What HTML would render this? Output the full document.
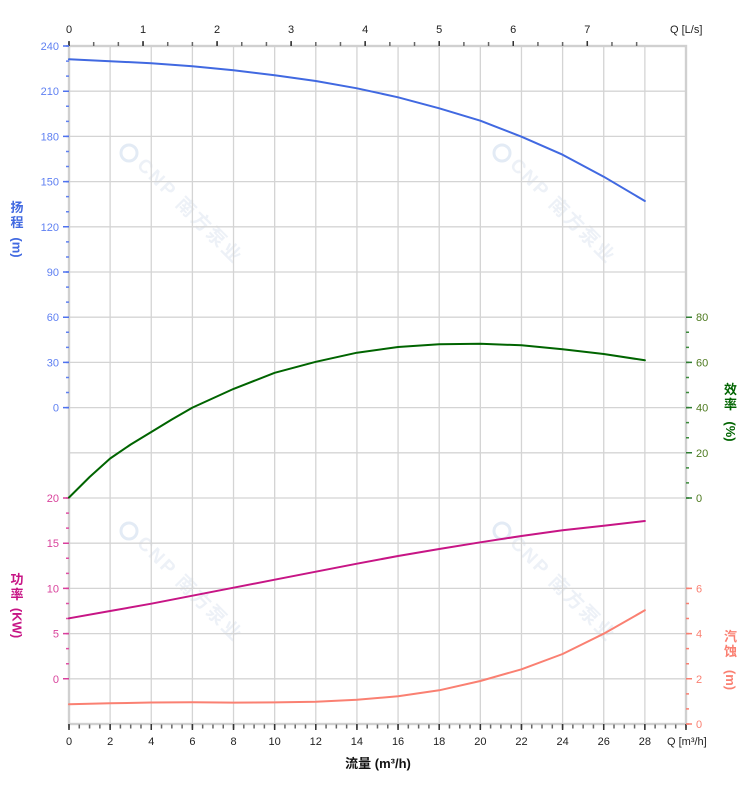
<!DOCTYPE html>
<html><head><meta charset="utf-8"><style>
html,body{margin:0;padding:0;background:#fff;}
svg{display:block;}
text{font-family:"Liberation Sans","Noto Sans CJK SC",sans-serif;}
</style></head><body>
<svg width="752" height="797" viewBox="0 0 752 797" xmlns="http://www.w3.org/2000/svg">
<rect width="752" height="797" fill="#fff"/>

<!-- watermarks -->
<g fill="#edf1f7" font-weight="bold" font-size="19">
  <g><circle cx="129" cy="153" r="8" fill="none" stroke="#e3ebf5" stroke-width="3"/>
  <text transform="translate(136,166) rotate(45)" textLength="138" lengthAdjust="spacing">CNP 南方泵业</text></g>
  <g transform="translate(373,0)"><circle cx="129" cy="153" r="8" fill="none" stroke="#e3ebf5" stroke-width="3"/>
  <text transform="translate(136,166) rotate(45)" textLength="138" lengthAdjust="spacing">CNP 南方泵业</text></g>
  <g transform="translate(0,378)"><circle cx="129" cy="153" r="8" fill="none" stroke="#e3ebf5" stroke-width="3"/>
  <text transform="translate(136,166) rotate(45)" textLength="138" lengthAdjust="spacing">CNP 南方泵业</text></g>
  <g transform="translate(373,378)"><circle cx="129" cy="153" r="8" fill="none" stroke="#e3ebf5" stroke-width="3"/>
  <text transform="translate(136,166) rotate(45)" textLength="138" lengthAdjust="spacing">CNP 南方泵业</text></g>
</g>

<!-- grid -->
<g stroke="#d4d4d4" stroke-width="1.3">
  <line x1="110.13" y1="46" x2="110.13" y2="724"/>
  <line x1="151.27" y1="46" x2="151.27" y2="724"/>
  <line x1="192.4" y1="46" x2="192.4" y2="724"/>
  <line x1="233.53" y1="46" x2="233.53" y2="724"/>
  <line x1="274.67" y1="46" x2="274.67" y2="724"/>
  <line x1="315.8" y1="46" x2="315.8" y2="724"/>
  <line x1="356.93" y1="46" x2="356.93" y2="724"/>
  <line x1="398.07" y1="46" x2="398.07" y2="724"/>
  <line x1="439.2" y1="46" x2="439.2" y2="724"/>
  <line x1="480.33" y1="46" x2="480.33" y2="724"/>
  <line x1="521.47" y1="46" x2="521.47" y2="724"/>
  <line x1="562.6" y1="46" x2="562.6" y2="724"/>
  <line x1="603.73" y1="46" x2="603.73" y2="724"/>
  <line x1="644.87" y1="46" x2="644.87" y2="724"/>
  <line x1="69" y1="91.2" x2="686" y2="91.2"/>
  <line x1="69" y1="136.4" x2="686" y2="136.4"/>
  <line x1="69" y1="181.6" x2="686" y2="181.6"/>
  <line x1="69" y1="226.8" x2="686" y2="226.8"/>
  <line x1="69" y1="272" x2="686" y2="272"/>
  <line x1="69" y1="317.2" x2="686" y2="317.2"/>
  <line x1="69" y1="362.4" x2="686" y2="362.4"/>
  <line x1="69" y1="407.6" x2="686" y2="407.6"/>
  <line x1="69" y1="452.8" x2="686" y2="452.8"/>
  <line x1="69" y1="498" x2="686" y2="498"/>
  <line x1="69" y1="543.2" x2="686" y2="543.2"/>
  <line x1="69" y1="588.4" x2="686" y2="588.4"/>
  <line x1="69" y1="633.6" x2="686" y2="633.6"/>
  <line x1="69" y1="678.8" x2="686" y2="678.8"/>
</g>
<rect x="69" y="46" width="617" height="678" fill="none" stroke="#d0d0d0" stroke-width="2.4"/>

<!-- top ticks -->
<line x1="68.25" y1="44" x2="637.5" y2="44" stroke="#666" stroke-width="4" stroke-dasharray="1.5 23.18"/>
<line x1="68.25" y1="43.5" x2="589" y2="43.5" stroke="#333" stroke-width="5" stroke-dasharray="1.5 72.54"/>
<!-- bottom ticks -->
<line x1="68.25" y1="726.5" x2="687" y2="726.5" stroke="#666" stroke-width="4" stroke-dasharray="1.5 8.783"/>
<line x1="68.25" y1="727" x2="687" y2="727" stroke="#333" stroke-width="6" stroke-dasharray="1.5 39.633"/>

<!-- left head ticks -->
<line x1="67.5" y1="45.25" x2="67.5" y2="408.5" stroke="#6080f0" stroke-width="3" stroke-dasharray="1.5 13.567"/>
<line x1="66" y1="45.25" x2="66" y2="408.5" stroke="#4f72ee" stroke-width="6" stroke-dasharray="1.5 43.7"/>
<!-- left power ticks -->
<line x1="67.5" y1="497.25" x2="67.5" y2="679.7" stroke="#e050a5" stroke-width="3" stroke-dasharray="1.5 13.567"/>
<line x1="66" y1="497.25" x2="66" y2="679.7" stroke="#d9409c" stroke-width="6" stroke-dasharray="1.5 43.7"/>
<!-- right eff ticks -->
<line x1="687.5" y1="316.45" x2="687.5" y2="498.9" stroke="#3c8c3c" stroke-width="3" stroke-dasharray="1.5 13.567"/>
<line x1="689" y1="316.45" x2="689" y2="498.9" stroke="#2e7d32" stroke-width="6" stroke-dasharray="1.5 43.7"/>
<!-- right npsh ticks -->
<line x1="687.5" y1="587.65" x2="687.5" y2="724.9" stroke="#fa8072" stroke-width="3" stroke-dasharray="1.5 13.567"/>
<line x1="689" y1="587.65" x2="689" y2="724.9" stroke="#fa8072" stroke-width="6" stroke-dasharray="1.5 43.7"/>

<!-- top labels -->
<g font-size="11" fill="#222" text-anchor="middle">
  <text x="69" y="33">0</text>
  <text x="143.04" y="33">1</text>
  <text x="217.08" y="33">2</text>
  <text x="291.12" y="33">3</text>
  <text x="365.16" y="33">4</text>
  <text x="439.2" y="33">5</text>
  <text x="513.24" y="33">6</text>
  <text x="587.28" y="33">7</text>
</g>
<text x="670" y="33" font-size="11" fill="#222">Q [L/s]</text>

<!-- bottom labels -->
<g font-size="11" fill="#222" text-anchor="middle">
  <text x="69" y="745">0</text>
  <text x="110.13" y="745">2</text>
  <text x="151.27" y="745">4</text>
  <text x="192.4" y="745">6</text>
  <text x="233.53" y="745">8</text>
  <text x="274.67" y="745">10</text>
  <text x="315.8" y="745">12</text>
  <text x="356.93" y="745">14</text>
  <text x="398.07" y="745">16</text>
  <text x="439.2" y="745">18</text>
  <text x="480.33" y="745">20</text>
  <text x="521.47" y="745">22</text>
  <text x="562.6" y="745">24</text>
  <text x="603.73" y="745">26</text>
  <text x="644.87" y="745">28</text>
</g>
<text x="667" y="745" font-size="11" fill="#222">Q [m³/h]</text>
<text x="378" y="768" font-size="13" font-weight="bold" fill="#111" text-anchor="middle">流量 (m³/h)</text>

<!-- head labels -->
<g font-size="11" fill="#5f80f2" text-anchor="end">
  <text x="59" y="50">240</text>
  <text x="59" y="95.2">210</text>
  <text x="59" y="140.4">180</text>
  <text x="59" y="185.6">150</text>
  <text x="59" y="230.8">120</text>
  <text x="59" y="276">90</text>
  <text x="59" y="321.2">60</text>
  <text x="59" y="366.4">30</text>
  <text x="59" y="411.6">0</text>
</g>
<!-- power labels -->
<g font-size="11" fill="#d9439c" text-anchor="end">
  <text x="59" y="502">20</text>
  <text x="59" y="547.2">15</text>
  <text x="59" y="592.4">10</text>
  <text x="59" y="637.6">5</text>
  <text x="59" y="682.8">0</text>
</g>
<!-- eff labels -->
<g font-size="11" fill="#4d7a1f">
  <text x="696" y="321.2">80</text>
  <text x="696" y="366.4">60</text>
  <text x="696" y="411.6">40</text>
  <text x="696" y="456.8">20</text>
  <text x="696" y="502">0</text>
</g>
<!-- npsh labels -->
<g font-size="11" fill="#fa8072">
  <text x="696" y="592.4">6</text>
  <text x="696" y="637.6">4</text>
  <text x="696" y="682.8">2</text>
  <text x="696" y="728">0</text>
</g>

<!-- axis titles -->
<g font-size="13" font-weight="bold" text-anchor="middle">
  <g fill="#4169e1">
    <text x="17" y="212">扬</text>
    <text x="17" y="227">程</text>
    <text transform="translate(17,247.5) rotate(90)" dominant-baseline="central">(m)</text>
  </g>
  <g fill="#c71585">
    <text x="17" y="584">功</text>
    <text x="17" y="599">率</text>
    <text transform="translate(17,623) rotate(90)" dominant-baseline="central">(KW)</text>
  </g>
  <g fill="#006400">
    <text x="730.5" y="394">效</text>
    <text x="730.5" y="409">率</text>
    <text transform="translate(730.5,431.5) rotate(90)" dominant-baseline="central">(%)</text>
  </g>
  <g fill="#fa8072">
    <text x="730.5" y="641">汽</text>
    <text x="730.5" y="656">蚀</text>
    <text transform="translate(730.5,680) rotate(90)" dominant-baseline="central">(m)</text>
  </g>
</g>

<!-- curves -->
<g fill="none" stroke-width="2" stroke-linejoin="round" stroke-linecap="round">
  <polyline stroke="#4169e1" points="69,59.3 110.13,61.2 151.27,63.3 192.4,66.3 233.53,70.2 274.67,75.3 315.8,81 356.93,88.3 398.07,97.3 439.2,108.3 480.33,120.7 521.47,136.7 562.6,154.7 603.73,176.7 644.87,201"/>
  <polyline stroke="#006400" points="69,497.5 89.6,477 110.13,458.5 130.7,444.5 151.27,432 171.8,419.5 192.4,407.6 233.53,388.9 274.67,372.8 315.8,361.8 356.93,352.7 398.07,347 439.2,344.3 480.33,343.7 521.47,345.3 562.6,349.3 603.73,354 644.87,360.3"/>
  <polyline stroke="#c71585" points="69,618.3 110.13,611 151.27,603.7 192.4,595.7 233.53,587.7 274.67,579.7 315.8,571.7 356.93,563.7 398.07,556 439.2,549 480.33,542.3 521.47,536 562.6,530.3 603.73,525.7 644.87,521"/>
  <polyline stroke="#fa8072" points="69,704.3 110.13,703.3 151.27,702.5 192.4,702.3 233.53,702.6 274.67,702.4 315.8,701.7 356.93,699.7 398.07,696.3 439.2,690.3 480.33,681 521.47,669.3 562.6,654 603.73,633.7 644.87,610.3"/>
</g>
</svg>
</body></html>
